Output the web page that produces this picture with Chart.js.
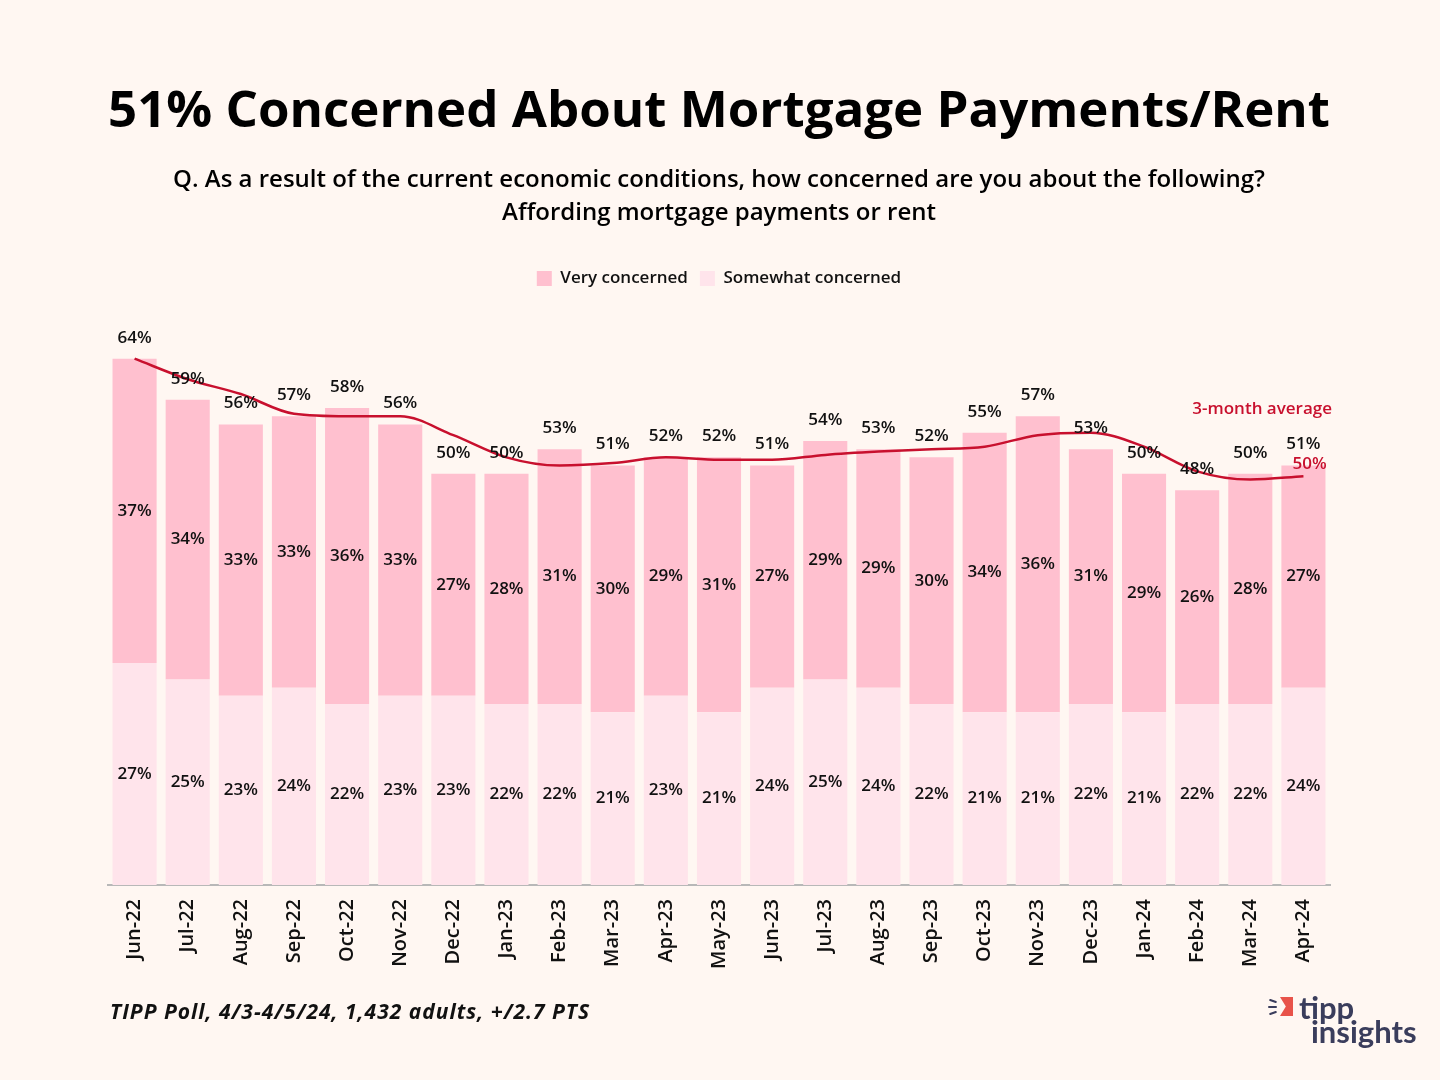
<!DOCTYPE html>
<html>
<head>
<meta charset="utf-8">
<title>51% Concerned About Mortgage Payments/Rent</title>
<script src="https://cdn.jsdelivr.net/npm/chart.js@4.4.1/dist/chart.umd.min.js"></script>
<style>
  html, body { margin: 0; padding: 0; background: #FFF7F2; }
  #wrap { position: relative; width: 1440px; height: 1080px; overflow: hidden; }
  #chart { position: absolute; left: 0; top: 0; }
  .source {
    position: absolute; left: 110px; top: 997px; letter-spacing: 1px;
    font: italic 700 21px "Open Sans", sans-serif; color: #111;
  }
  .logo { position: absolute; left: 1266px; top: 990px; width: 170px; height: 60px; }
  .logo .flag {
    position: absolute; left: 14px; top: 7px; width: 13px; height: 19px; background: #E8534A;
    clip-path: polygon(0 0, 100% 0, 100% 100%, 0 100%, 45% 50%);
  }
  .logo .ray { position: absolute; height: 2px; background: #3A3D5C; border-radius: 1px; }
  .logo .word {
    position: absolute; font: 700 31px Lato, sans-serif; color: #3A3D5C; line-height: 1;
  }
</style>
</head>
<body>
<div id="wrap">
  <canvas id="chart" width="1440" height="1080"></canvas>
  <div class="source">TIPP Poll, 4/3-4/5/24, 1,432 adults, +/2.7 PTS</div>
  <div class="logo">
    <div class="ray" style="left:3px;top:10px;width:8px;transform:rotate(20deg)"></div>
    <div class="ray" style="left:2px;top:16px;width:9px"></div>
    <div class="ray" style="left:3px;top:22px;width:8px;transform:rotate(-20deg)"></div>
    <div class="flag"></div>
    <div class="word" style="left:33px;top:2px">tipp</div>
    <div class="word" style="left:45px;top:26px">insights</div>
  </div>
</div>
<script>
// Chart data
const months = ['Jun-22', 'Jul-22', 'Aug-22', 'Sep-22', 'Oct-22', 'Nov-22', 'Dec-22', 'Jan-23',
  'Feb-23', 'Mar-23', 'Apr-23', 'May-23', 'Jun-23', 'Jul-23', 'Aug-23', 'Sep-23', 'Oct-23',
  'Nov-23', 'Dec-23', 'Jan-24', 'Feb-24', 'Mar-24', 'Apr-24'];
const veryConcerned = [37, 34, 33, 33, 36, 33, 27, 28, 31, 30, 29, 31, 27, 29, 29, 30, 34, 36, 31, 29, 26, 28, 27];
const somewhatConcerned = [27, 25, 23, 24, 22, 23, 23, 22, 22, 21, 23, 21, 24, 25, 24, 22, 21, 21, 22, 21, 22, 22, 24];
const totalConcerned = [64, 59, 56, 57, 58, 56, 50, 50, 53, 51, 52, 52, 51, 54, 53, 52, 55, 57, 53, 50, 48, 50, 51];
const threeMonthAvg = [64, 61.5, 59.7, 57.3, 57, 57, 54.7, 52, 51, 51.3, 52, 51.7, 51.7, 52.3, 52.7,
  53, 53.3, 54.7, 55, 53.3, 50.3, 49.3, 49.7];

const FONT = '"Open Sans"';
const TEXT = '#111111';
const AVG_RED = '#C8102E';

Chart.defaults.font.family = FONT;
Chart.defaults.color = TEXT;

// Percent labels inside segments, totals on top, and the average line label
const valueLabels = {
  id: 'valueLabels',
  afterDatasetsDraw(chart) {
    const ctx = chart.ctx;
    ctx.save();
    ctx.font = '600 17px ' + FONT;
    ctx.fillStyle = TEXT;
    ctx.textAlign = 'center';
    ctx.textBaseline = 'middle';

    [0, 1].forEach(di => {
      const ds = chart.data.datasets[di];
      chart.getDatasetMeta(di).data.forEach((bar, i) => {
        ctx.fillText(ds.data[i] + '%', bar.x, (bar.y + bar.base) / 2);
      });
    });

    chart.getDatasetMeta(1).data.forEach((bar, i) => {
      ctx.fillText(totalConcerned[i] + '%', bar.x, bar.y - 21);
    });

    const pts = chart.getDatasetMeta(2).data;
    const last = pts[pts.length - 1];
    ctx.fillStyle = AVG_RED;
    ctx.textAlign = 'left';
    ctx.fillText(Math.round(threeMonthAvg[threeMonthAvg.length - 1]) + '%', last.x - 11, last.y - 12);
    ctx.textAlign = 'right';
    ctx.fillText('3-month average', chart.chartArea.right + 2, last.y - 67);
    ctx.restore();
  }
};

new Chart(document.getElementById('chart'), {
  type: 'bar',
  data: {
    labels: months,
    datasets: [
      {
        label: 'Somewhat concerned',
        data: somewhatConcerned,
        backgroundColor: '#FFE4EB',
        stack: 'bars',
        order: 1,
        barPercentage: 0.83,
        categoryPercentage: 1
      },
      {
        label: 'Very concerned',
        data: veryConcerned,
        backgroundColor: '#FFC0CF',
        stack: 'bars',
        order: 1,
        barPercentage: 0.83,
        categoryPercentage: 1
      },
      {
        type: 'line',
        label: '3-month average',
        data: threeMonthAvg,
        borderColor: AVG_RED,
        borderWidth: 2.5,
        pointRadius: 0,
        tension: 0.4,
        cubicInterpolationMode: 'monotone',
        stack: 'avg',
        order: 0
      }
    ]
  },
  options: {
    responsive: false,
    animation: false,
    layout: { padding: { left: 108, right: 110, top: 0, bottom: 0 } },
    plugins: {
      title: {
        display: true,
        text: '51% Concerned About Mortgage Payments/Rent',
        color: '#000',
        font: { size: 51, weight: 700 },
        padding: { top: 82, bottom: 21 }
      },
      subtitle: {
        display: true,
        text: ['Q. As a result of the current economic conditions, how concerned are you about the following?',
          'Affording mortgage payments or rent'],
        color: '#000',
        font: { size: 24, weight: 600, lineHeight: 1.35 },
        padding: { top: 0, bottom: 29 }
      },
      legend: {
        reverse: true,
        labels: {
          filter: item => item.text !== '3-month average',
          boxWidth: 15,
          boxHeight: 15,
          padding: 12,
          color: TEXT,
          font: { size: 17, weight: 600 }
        }
      },
      tooltip: { enabled: false }
    },
    scales: {
      x: {
        stacked: true,
        grid: { display: false },
        border: { display: true, color: '#B8B8B8', width: 2 },
        ticks: {
          autoSkip: false,
          minRotation: 90,
          maxRotation: 90,
          padding: 6,
          color: TEXT,
          font: { size: 20, weight: 600 }
        },
        afterFit(scale) { scale.height = 195; }
      },
      y: {
        stacked: true,
        display: false,
        min: 0,
        max: 71.5
      }
    }
  },
  plugins: [valueLabels]
});
</script>
</body>
</html>
